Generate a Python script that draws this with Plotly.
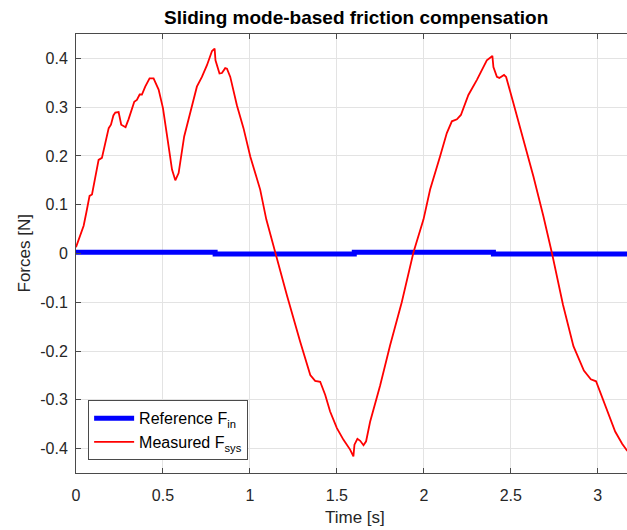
import plotly.graph_objects as go

# Measured system force (red trace)
time_meas = [
    0, 0.025, 0.044, 0.06, 0.078, 0.092, 0.111, 0.13, 0.149, 0.17,
    0.188, 0.201, 0.215, 0.226, 0.245, 0.26, 0.285, 0.302, 0.335, 0.35,
    0.366, 0.379, 0.398, 0.423, 0.446, 0.475, 0.5, 0.527, 0.552, 0.571,
    0.59, 0.622, 0.657, 0.695, 0.724, 0.753, 0.782, 0.797, 0.802, 0.825,
    0.839, 0.858, 0.868, 0.887, 0.925, 0.963, 1.002, 1.059, 1.094, 1.145,
    1.213, 1.289, 1.347, 1.375, 1.404, 1.433, 1.461, 1.5, 1.538, 1.576,
    1.595, 1.601, 1.618, 1.634, 1.653, 1.668, 1.691, 1.749, 1.806, 1.873,
    1.94, 1.998, 2.036, 2.093, 2.132, 2.161, 2.19, 2.213, 2.256, 2.305,
    2.333, 2.362, 2.394, 2.4, 2.42, 2.434, 2.461, 2.473, 2.515, 2.572,
    2.63, 2.687, 2.737, 2.8, 2.86, 2.92, 2.96, 2.99, 3.02, 3.06,
    3.1, 3.14, 3.17,
]
force_meas = [
    0.013, 0.036, 0.057, 0.085, 0.118, 0.121, 0.158, 0.192, 0.196, 0.232,
    0.257, 0.264, 0.283, 0.289, 0.29, 0.264, 0.259, 0.275, 0.311, 0.315,
    0.326, 0.326, 0.342, 0.359, 0.359, 0.336, 0.298, 0.233, 0.172, 0.15,
    0.165, 0.24, 0.287, 0.342, 0.362, 0.386, 0.415, 0.42, 0.396, 0.369,
    0.37, 0.38, 0.379, 0.362, 0.304, 0.257, 0.199, 0.131, 0.07, 0.002,
    -0.086, -0.181, -0.249, -0.261, -0.263, -0.29, -0.324, -0.358, -0.382, -0.402,
    -0.416, -0.392, -0.38, -0.384, -0.393, -0.385, -0.345, -0.27, -0.188, -0.1,
    0.002, 0.07, 0.131, 0.199, 0.247, 0.271, 0.275, 0.284, 0.325, 0.356,
    0.376, 0.396, 0.405, 0.382, 0.362, 0.36, 0.366, 0.362, 0.308, 0.233,
    0.158, 0.077, 0.0, -0.105, -0.19, -0.24, -0.258, -0.262, -0.29, -0.33,
    -0.365, -0.39, -0.405,
]

# Reference input force (blue step trace)
time_ref = [0, 0.8, 1.6, 2.4, 3.17]
force_ref = [0.0025, -0.001, 0.0025, -0.001, -0.001]

x_tick_vals = [0, 0.5, 1, 1.5, 2, 2.5, 3]
x_tick_text = ["0", "0.5", "1", "1.5", "2", "2.5", "3"]
y_tick_vals = [-0.4, -0.3, -0.2, -0.1, 0, 0.1, 0.2, 0.3, 0.4]
y_tick_text = ["-0.4", "-0.3", "-0.2", "-0.1", "0", "0.1", "0.2", "0.3", "0.4"]

FONT = "Liberation Sans, Arial, Helvetica, sans-serif"
AXIS_COLOR = "#4a4a4a"
TEXT_COLOR = "#262626"
GRID_COLOR = "#e3e3e3"

fig = go.Figure()
fig.add_trace(go.Scatter(
    x=time_ref, y=force_ref, mode="lines", line_shape="hv",
    line=dict(color="#0000ff", width=5),
    name="Reference F<sub>in</sub>",
))
fig.add_trace(go.Scatter(
    x=time_meas, y=force_meas, mode="lines",
    line=dict(color="#ff0000", width=1.8),
    name="Measured F<sub>sys</sub>",
))

fig.update_layout(
    width=627, height=530,
    margin=dict(l=76, r=0, t=34, b=57),
    paper_bgcolor="white", plot_bgcolor="white",
    font=dict(family=FONT, size=16, color=TEXT_COLOR),
    showlegend=True,
    legend=dict(
        x=0.022, y=0.029, xanchor="left", yanchor="bottom",
        bgcolor="white", bordercolor=AXIS_COLOR, borderwidth=1,
        font=dict(family=FONT, size=16, color="#000000"),
        tracegroupgap=0, itemwidth=40,
    ),
    annotations=[
        dict(text="<b>Sliding mode-based friction compensation</b>",
             xref="paper", yref="paper", x=(356 - 76) / 551, y=1.0,
             yshift=17, showarrow=False, xanchor="center", yanchor="middle",
             font=dict(family=FONT, size=19, color="#000000")),
        dict(text="Time [s]", xref="paper", yref="paper",
             x=(355 - 76) / 551, y=0, yshift=-44, showarrow=False,
             xanchor="center", yanchor="middle",
             font=dict(family=FONT, size=17, color=TEXT_COLOR)),
        dict(text="Forces [N]", xref="paper", yref="paper",
             x=0, xshift=-52, y=0.5, textangle=-90, showarrow=False,
             xanchor="center", yanchor="middle",
             font=dict(family=FONT, size=17, color=TEXT_COLOR)),
    ],
)

fig.update_xaxes(
    range=[0, 3.168], tickvals=x_tick_vals, ticktext=x_tick_text,
    showgrid=True, gridcolor=GRID_COLOR, gridwidth=1,
    zeroline=False, showline=True, linecolor=AXIS_COLOR, linewidth=1,
    mirror="ticks", ticks="inside", ticklen=5, tickcolor=AXIS_COLOR,
    ticklabelstandoff=8, tickfont=dict(size=16, color=TEXT_COLOR),
)
fig.update_yaxes(
    range=[-0.45, 0.45], tickvals=y_tick_vals, ticktext=y_tick_text,
    showgrid=True, gridcolor=GRID_COLOR, gridwidth=1,
    zeroline=False, showline=True, linecolor=AXIS_COLOR, linewidth=1,
    ticks="inside", ticklen=5, tickcolor=AXIS_COLOR,
    ticklabelstandoff=4, tickfont=dict(size=16, color=TEXT_COLOR),
)

fig.write_html("out.html")
